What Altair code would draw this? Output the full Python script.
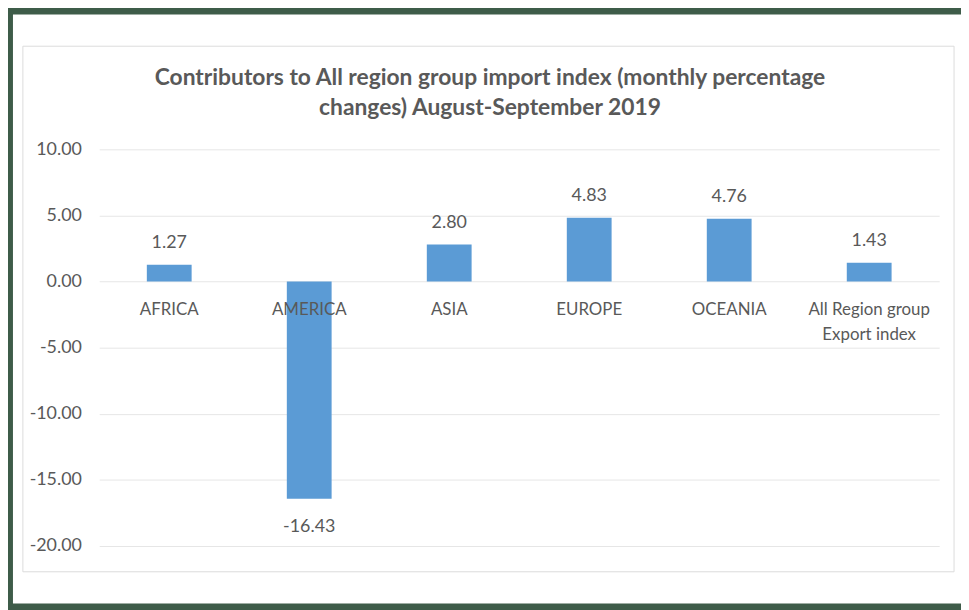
import altair as alt
import pandas as pd

categories = ["AFRICA", "AMERICA", "ASIA", "EUROPE", "OCEANIA", "All Region group\nExport index"]
values = [1.27, -16.43, 2.80, 4.83, 4.76, 1.43]
y_ticks = [-20, -15, -10, -5, 0, 5, 10]
title_text = ("Contributors to All region group import index (monthly percentage\n"
              "changes) August-September 2019")

df = pd.DataFrame({"region": categories, "value": values})
df["label"] = [f"{v:.2f}" for v in values]
df["zero"] = 0

FONT = "Lato"
GRAY = "#595959"

xenc = alt.X("region:N", sort=categories, axis=None,
             scale=alt.Scale(paddingInner=0.68, paddingOuter=0.34))
yscale = alt.Scale(domain=[-20, 10], nice=False, zero=False)

base = alt.Chart(df)

bars = base.mark_bar(color="#5b9bd5").encode(
    x=xenc,
    y=alt.Y("value:Q", scale=yscale, title=None,
            axis=alt.Axis(values=y_ticks, domain=False, ticks=False,
                          labelExpr="replace(format(datum.value, '.2f'), '\u2212', '-')",
                          labelFont=FONT, labelFontSize=18, labelColor=GRAY,
                          labelPadding=18, gridColor="#e6e6e6", gridWidth=1)),
)

pos_labels = base.transform_filter("datum.value >= 0").mark_text(
    baseline="bottom", dy=-13, font=FONT, fontSize=18, color=GRAY
).encode(x=xenc, y=alt.Y("value:Q", scale=yscale), text="label:N")

neg_labels = base.transform_filter("datum.value < 0").mark_text(
    baseline="top", dy=19, font=FONT, fontSize=18, color=GRAY
).encode(x=xenc, y=alt.Y("value:Q", scale=yscale), text="label:N")

cat_labels = base.mark_text(
    baseline="top", dy=21, font=FONT, fontSize=17, color=GRAY, lineBreak="\n", lineHeight=25
).encode(x=xenc, y=alt.Y("zero:Q", scale=yscale), text="region:N")

one = alt.Chart(pd.DataFrame({"t": [title_text]}))
title = one.mark_text(
    font=FONT, fontSize=23, fontWeight="bold", color=GRAY, lineBreak="\n", lineHeight=30,
    align="center", baseline="middle"
).encode(x=alt.value(394), y=alt.value(-72), text="t:N")

inner_border = one.mark_rect(fillOpacity=0, stroke="#dcdcdc", strokeWidth=1).encode(
    x=alt.value(-77), x2=alt.value(862), y=alt.value(-104), y2=alt.value(426)
)
green_frame = one.mark_rect(fillOpacity=0, stroke="#3e5c49", strokeWidth=10).encode(
    x=alt.value(-92), x2=alt.value(900), y=alt.value(-141), y2=alt.value(463)
)

chart = alt.layer(bars, pos_labels, neg_labels, cat_labels, title, inner_border, green_frame).properties(
    width=847,
    height=400,
    autosize=alt.AutoSizeParams(type="none"),
    padding={"left": 92, "top": 140, "right": 22, "bottom": 62},
).configure(background="white").configure_view(stroke=None)

chart.save("out.html", embed_options={"renderer": "svg", "actions": False})
